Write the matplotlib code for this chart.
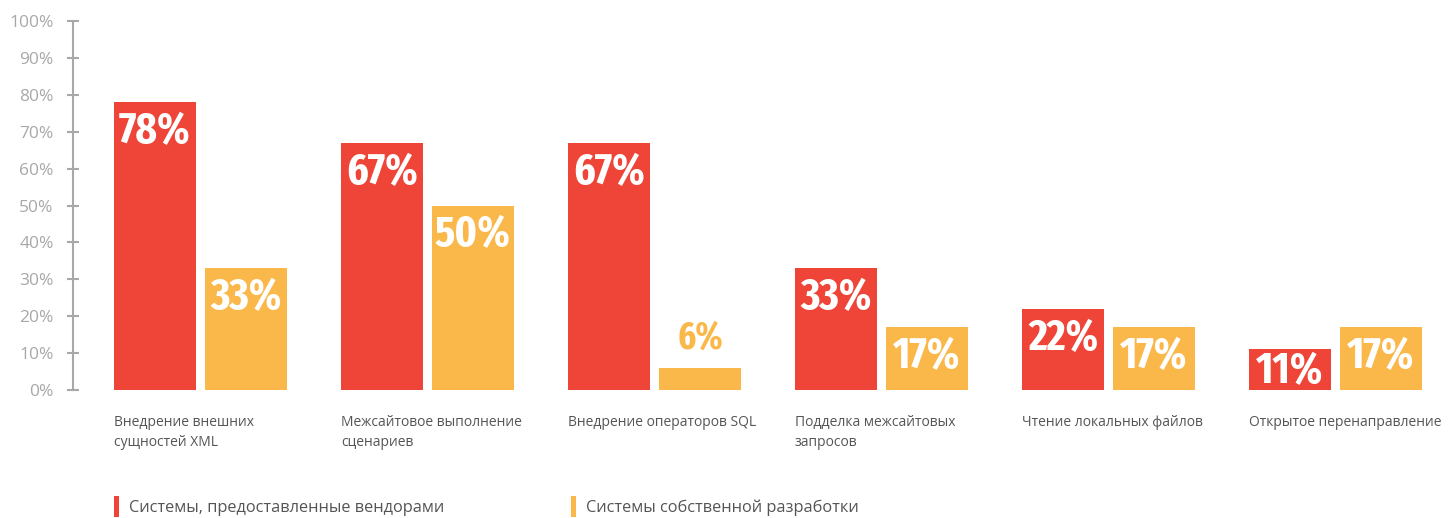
import matplotlib
matplotlib.use("Agg")
import matplotlib.pyplot as plt
from matplotlib.patches import Rectangle

categories = [
    "Внедрение внешних\nсущностей XML",
    "Межсайтовое выполнение\nсценариев",
    "Внедрение операторов SQL",
    "Подделка межсайтовых\nзапросов",
    "Чтение локальных файлов",
    "Открытое перенаправление",
]
vendor = [78, 67, 67, 33, 22, 11]
inhouse = [33, 50, 6, 17, 17, 17]
series_names = ["Системы, предоставленные вендорами", "Системы собственной разработки"]
yticks = [0, 10, 20, 30, 40, 50, 60, 70, 80, 90, 100]

RED = "#EF4538"
ORANGE = "#FBB84A"
GREY = "#A8A8A8"
TEXT = "#555555"

W, H = 1450, 518
fig = plt.figure(figsize=(W / 100, H / 100), dpi=100)
ax = fig.add_axes([73 / W, (H - 390) / H, (W - 73) / W, 369 / H])

bw = 82 / 227
off = 45.5 / 227
xs = list(range(len(categories)))
ax.bar([x - off for x in xs], vendor, width=bw, color=RED, linewidth=0)
ax.bar([x + off for x in xs], inhouse, width=bw, color=ORANGE, linewidth=0)

ax.set_xlim((73 - 200.5) / 227, (W - 200.5) / 227)
ax.set_ylim(0, 100)

for s in ["top", "right", "bottom"]:
    ax.spines[s].set_visible(False)
ax.spines["left"].set_color(GREY)
ax.spines["left"].set_linewidth(1.5)
ax.set_xticks([])
ax.set_yticks(yticks)
ax.set_yticklabels([f"{v}%" for v in yticks], fontfamily="Open Sans",
                   fontsize=12.5, color=GREY)
ax.tick_params(axis="y", direction="inout", length=9, width=1.5,
               color=GREY, pad=9.5)

px = 100 / 369  # data units per pixel vertically
label_font = dict(family=["Fira Sans Extra Condensed", "DejaVu Sans"],
                  weight="bold", ha="center", va="baseline")


def value_label(x, v, color):
    if v < 10:
        # too short to hold the number: write it above the bar in bar colour
        ax.text(x, v + 19 * px, f"{v}%", color=color, fontsize=27, **label_font)
    else:
        ax.text(x, max(v - 41 * px, 7 * px), f"{v}%", color="white",
                fontsize=32, **label_font)


for x, v in zip(xs, vendor):
    value_label(x - off, v, RED)
for x, v in zip(xs, inhouse):
    value_label(x + off, v, ORANGE)

trans = ax.get_xaxis_transform()
for x, name in zip(xs, categories):
    ax.text(x - off - bw / 2, -25 / 369, name, transform=trans, ha="left",
            va="top", fontfamily="Open Sans", fontsize=10, color=TEXT,
            linespacing=1.45)

# legend
for xpx, color, name in [(114, RED, series_names[0]), (571, ORANGE, series_names[1])]:
    fig.patches.append(Rectangle((xpx / W, (H - 517) / H), 5 / W, 21 / H,
                                 transform=fig.transFigure, color=color,
                                 linewidth=0))
    fig.text((xpx + 15) / W, (H - 508) / H, name, ha="left", va="center",
             fontfamily="Open Sans", fontsize=11.8, color=TEXT)

fig.savefig("out.png", dpi=100)
